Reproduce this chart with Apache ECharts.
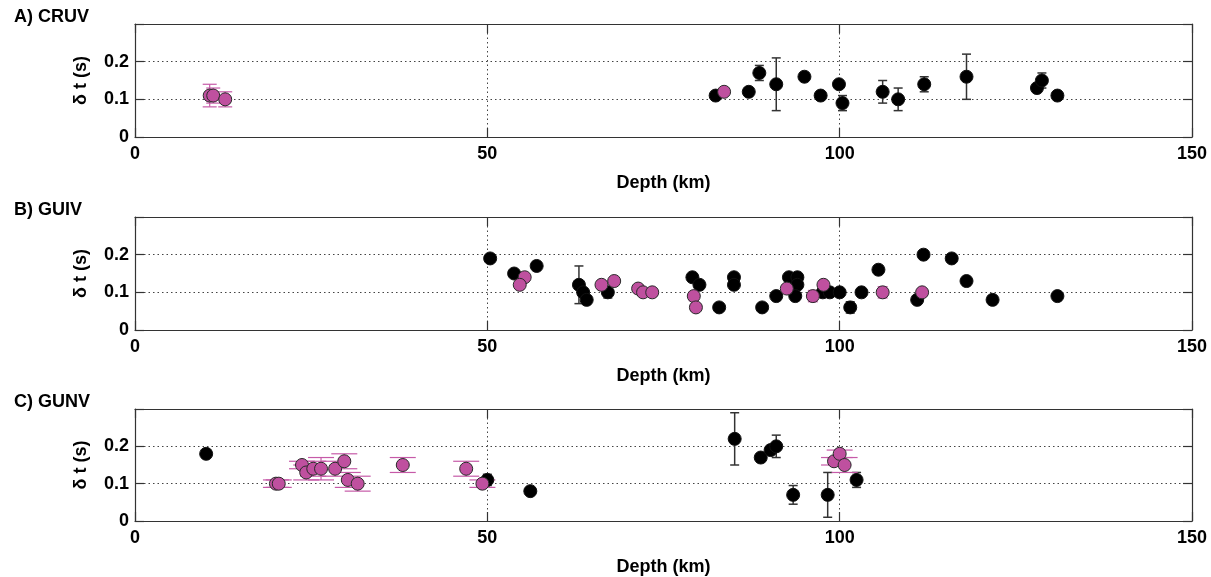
<!DOCTYPE html>
<html>
<head>
<meta charset="utf-8">
<script src="https://cdn.jsdelivr.net/npm/echarts@6/dist/echarts.min.js"></script>
<style>
html, body { margin: 0; padding: 0; background: #fff; }
#chart { width: 1211px; height: 577px; }
</style>
</head>
<body>
<div id="chart"></div>
<script>
// panel names
var panelTitles = ['A) CRUV', 'B) GUIV', 'C) GUNV'];
var xTicks = [0, 50, 100, 150];
var yTicks = [0, 0.1, 0.2];

// A) CRUV
var cruvBlackDepth = [82.4, 87.1, 88.6, 91.0, 95.0, 97.3, 99.9, 100.4, 106.1, 108.3, 112.0, 118.0, 128.0, 128.7, 130.9];
var cruvBlackDt    = [0.11, 0.12, 0.17, 0.14, 0.16, 0.11, 0.14, 0.09, 0.12, 0.10, 0.14, 0.16, 0.13, 0.15, 0.11];
var cruvBlackErr   = [0, 0, 0.02, 0.07, 0, 0, 0, 0.02, 0.03, 0.03, 0.02, 0.06, 0, 0.02, 0];
var cruvPinkDepth  = [10.6, 11.1, 12.8, 83.6];
var cruvPinkDt     = [0.11, 0.11, 0.10, 0.12];
var cruvPinkErr    = [0.03, 0.02, 0.02, 0];

// B) GUIV
var guivBlackDepth = [50.4, 53.8, 57.0, 63.0, 63.6, 64.1, 67.1, 79.1, 80.1, 82.9, 85.0, 85.0, 89.0, 91.0, 92.8, 94.0, 94.0, 93.7, 97.6, 98.6, 100.0, 101.5, 103.1, 105.5, 111.0, 111.9, 115.9, 118.0, 121.7, 130.9];
var guivBlackDt    = [0.19, 0.15, 0.17, 0.12, 0.10, 0.08, 0.10, 0.14, 0.12, 0.06, 0.14, 0.12, 0.06, 0.09, 0.14, 0.14, 0.12, 0.09, 0.10, 0.10, 0.10, 0.06, 0.10, 0.16, 0.08, 0.20, 0.19, 0.13, 0.08, 0.09];
var guivBlackErr   = [0, 0, 0, 0.05, 0, 0, 0.015, 0, 0, 0, 0, 0, 0, 0, 0, 0, 0, 0, 0, 0, 0, 0.015, 0, 0, 0, 0, 0, 0, 0, 0];
var guivPinkDepth  = [55.3, 54.6, 66.2, 68.0, 71.4, 72.1, 73.4, 79.3, 79.6, 92.5, 96.2, 97.7, 106.1, 111.7];
var guivPinkDt     = [0.14, 0.12, 0.12, 0.13, 0.11, 0.10, 0.10, 0.09, 0.06, 0.11, 0.09, 0.12, 0.10, 0.10];
var guivPinkErr    = [0, 0, 0, 0, 0, 0, 0, 0.012, 0, 0, 0.015, 0, 0.015, 0];

// C) GUNV
var gunvBlackDepth = [10.1, 50.0, 56.1, 85.1, 88.8, 90.2, 91.0, 93.4, 98.3, 102.4];
var gunvBlackDt    = [0.18, 0.11, 0.08, 0.22, 0.17, 0.19, 0.20, 0.07, 0.07, 0.11];
var gunvBlackErr   = [0, 0.015, 0.005, 0.07, 0.01, 0, 0.03, 0.025, 0.06, 0.02];
var gunvPinkDepth  = [20.0, 20.4, 23.7, 24.3, 25.3, 26.4, 28.4, 29.7, 30.2, 31.6, 38.0, 47.0, 49.3, 99.2, 100.0, 100.7];
var gunvPinkDt     = [0.10, 0.10, 0.15, 0.13, 0.14, 0.14, 0.14, 0.16, 0.11, 0.10, 0.15, 0.14, 0.10, 0.16, 0.18, 0.15];
var gunvPinkErr    = [0.01, 0.01, 0.01, 0.02, 0.02, 0.03, 0.02, 0.02, 0.02, 0.02, 0.02, 0.02, 0.01, 0.01, 0.01, 0.02];

var panels = [
    { bd: cruvBlackDepth, bt: cruvBlackDt, be: cruvBlackErr, pd: cruvPinkDepth, pt: cruvPinkDt, pe: cruvPinkErr, pinkCap: 7 },
    { bd: guivBlackDepth, bt: guivBlackDt, be: guivBlackErr, pd: guivPinkDepth, pt: guivPinkDt, pe: guivPinkErr, pinkCap: 5 },
    { bd: gunvBlackDepth, bt: gunvBlackDt, be: gunvBlackErr, pd: gunvPinkDepth, pt: gunvPinkDt, pe: gunvPinkErr, pinkCap: 13 }
];

var PINK = '#bf509f';
var FONT = 'Liberation Sans';
var gridTops = [24, 217, 409];
var gridH = 113;

function errorBars(idx, depth, dt, err, color, halfCap, lw) {
    var rows = [];
    for (var i = 0; i < depth.length; i++) {
        if (err[i] > 0) rows.push([depth[i], dt[i] - err[i], dt[i] + err[i]]);
    }
    return {
        type: 'custom',
        xAxisIndex: idx,
        yAxisIndex: idx,
        z: 2,
        silent: true,
        data: rows,
        renderItem: function (params, api) {
            var lo = api.coord([api.value(0), api.value(1)]);
            var hi = api.coord([api.value(0), api.value(2)]);
            var st = { stroke: color, lineWidth: lw };
            return {
                type: 'group',
                children: [
                    { type: 'line', shape: { x1: lo[0], y1: lo[1], x2: hi[0], y2: hi[1] }, style: st },
                    { type: 'line', shape: { x1: lo[0] - halfCap, y1: lo[1], x2: lo[0] + halfCap, y2: lo[1] }, style: st },
                    { type: 'line', shape: { x1: hi[0] - halfCap, y1: hi[1], x2: hi[0] + halfCap, y2: hi[1] }, style: st }
                ]
            };
        }
    };
}

function points(idx, depth, dt, fill, border, z) {
    return {
        type: 'scatter',
        xAxisIndex: idx,
        yAxisIndex: idx,
        z: z,
        symbolSize: 13,
        data: depth.map(function (d, i) { return [d, dt[i]]; }),
        itemStyle: { color: fill, borderColor: border, borderWidth: 1, opacity: 1 }
    };
}

function frame() { return { show: true, onZero: false, lineStyle: { color: '#333', width: 1.2 } }; }
function tick() { return { show: true, inside: true, length: 9, lineStyle: { color: '#333', width: 1.2 } }; }
function dotted() { return { show: true, lineStyle: { color: '#444', width: 1, type: [1.5, 3] } }; }
function labelStyle() { return { color: '#000', fontFamily: FONT, fontWeight: 'bold', fontSize: 18 }; }

var grids = [], xAxes = [], yAxes = [], titles = [], series = [];

for (var p = 0; p < 3; p++) {
    grids.push({ left: 135, width: 1057, top: gridTops[p], height: gridH });
    titles.push({ text: panelTitles[p], left: 9, top: gridTops[p] - 21, textStyle: labelStyle() });
    xAxes.push({
        type: 'value', gridIndex: p, position: 'bottom', min: xTicks[0], max: xTicks[xTicks.length - 1], interval: 50,
        name: 'Depth (km)', nameLocation: 'middle', nameGap: 37, nameTextStyle: labelStyle(),
        axisLine: frame(), axisTick: tick(), splitLine: dotted(),
        axisLabel: Object.assign({ margin: 8 }, labelStyle())
    });
    yAxes.push({
        type: 'value', gridIndex: p, position: 'left', min: 0, max: 0.3, interval: 0.1,
        name: 'δ t (s)', nameLocation: 'middle', nameGap: 45, nameTextStyle: labelStyle(),
        axisLine: frame(), axisTick: tick(), splitLine: dotted(),
        axisLabel: Object.assign({
            margin: 6,
            formatter: function (v) {
                var r = Math.round(v * 10) / 10;
                return yTicks.indexOf(r) >= 0 ? String(r) : '';
            }
        }, labelStyle())
    });
}
for (var q = 0; q < 3; q++) {
    xAxes.push({
        type: 'value', gridIndex: q, position: 'top', min: 0, max: 150, interval: 50,
        axisLine: frame(), axisTick: tick(), axisLabel: { show: false }, splitLine: { show: false }
    });
    yAxes.push({
        type: 'value', gridIndex: q, position: 'right', min: 0, max: 0.3, interval: 0.1,
        axisLine: frame(), axisTick: tick(), axisLabel: { show: false }, splitLine: { show: false }
    });
    var pn = panels[q];
    series.push(errorBars(q, pn.bd, pn.bt, pn.be, '#333', 4.5, 1.5));
    series.push(errorBars(q, pn.pd, pn.pt, pn.pe, '#c65aa8', pn.pinkCap, 1.2));
    series.push(points(q, pn.bd, pn.bt, '#000', '#111', 3));
    series.push(points(q, pn.pd, pn.pt, PINK, '#2a2a2a', 4));
}

var chart = echarts.init(document.getElementById('chart'), null, { renderer: 'canvas' });
chart.setOption({
    backgroundColor: '#fff',
    animation: false,
    title: titles,
    grid: grids,
    xAxis: xAxes,
    yAxis: yAxes,
    series: series
});
</script>
</body>
</html>
